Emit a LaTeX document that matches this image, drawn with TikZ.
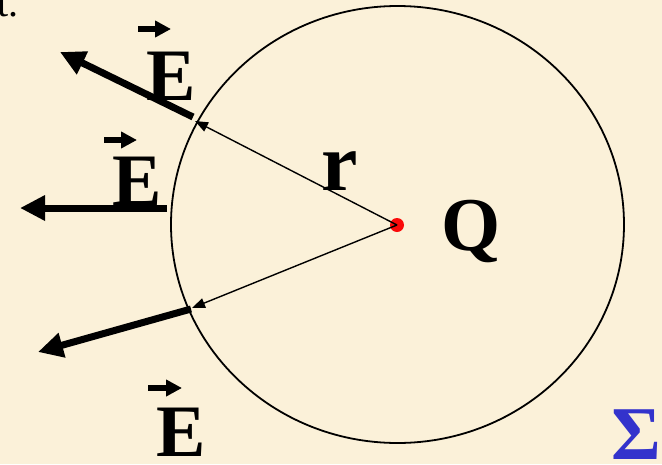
\documentclass[tikz,border=0pt]{standalone}
\usepackage{fontspec}
\setmainfont{Liberation Serif}
\usetikzlibrary{arrows.meta}
\definecolor{parch}{RGB}{251,241,217}
\definecolor{sigblue}{RGB}{51,51,204}
\definecolor{dotred}{RGB}{250,10,10}
\begin{document}
\begin{tikzpicture}[x=1pt,y=-1pt,
  thinarrow/.style={line width=1.4pt,-{Triangle[length=13pt,width=10pt]}},
  fieldarrow/.style={line width=7pt,-{Triangle[length=25pt,width=24pt]}},
  vecarrow/.style={line width=6pt,-{Triangle[length=16pt,width=16pt]}},
  lbl/.style={inner sep=0pt,font=\fontsize{74}{80}\selectfont\bfseries}]
\useasboundingbox (0,0) rectangle (662,464);
\fill[parch] (0,0) rectangle (662,464);
\begin{scope}
\clip (0,0) rectangle (662,464);
\node[inner sep=0pt,anchor=base east,font=\fontsize{40}{42}\selectfont] (tdot) at (19,16) {t.};
\end{scope}
% sphere
\draw[line width=1.8pt] (397.5,224.5) ellipse [x radius=226.5pt, y radius=218.5pt];
% charge
\node[circle,fill=dotred,minimum size=14pt,inner sep=0pt] (dot) at (397,225) {};
\node[lbl,anchor=base west,font=\fontsize{76}{80}\selectfont\bfseries] (Q) at (441,250) {Q};
\node[lbl,anchor=base west,font=\fontsize{82}{86}\selectfont\bfseries] (r) at (321,190) {r};
% radius lines
\coordinate (p1) at (195,121);
\coordinate (p2) at (192,308);
\draw[thinarrow] (dot.center) -- (p1);
\draw[thinarrow] (dot.center) -- (p2);
% field arrows
\coordinate (f1s) at (193,117);
\coordinate (f1e) at (60,52);
\coordinate (f2s) at (167,208);
\coordinate (f2e) at (20,208);
\coordinate (f3s) at (191,309);
\coordinate (f3e) at (38,352);
\draw[fieldarrow] (f1s) -- (f1e);
\draw[fieldarrow] (f2s) -- (f2e);
\draw[fieldarrow] (f3s) -- (f3e);
% E labels
\node[lbl,anchor=base west] (E1) at (146,100) {E};
\node[lbl,anchor=base west] (E2) at (112,205) {E};
\node[lbl,anchor=base west] (E3) at (156,456) {E};
\coordinate (v1a) at (138,29);
\coordinate (v1b) at (171,29);
\coordinate (v2a) at (104,140);
\coordinate (v2b) at (137,140);
\coordinate (v3a) at (148,388);
\coordinate (v3b) at (182,388);
\draw[vecarrow] (v1a) -- (v1b);
\draw[vecarrow] (v2a) -- (v2b);
\draw[vecarrow] (v3a) -- (v3b);
% sigma
\node[lbl,anchor=base west,text=sigblue,font=\fontsize{76}{80}\selectfont\bfseries] (S) at (611,459) {Σ};
\end{tikzpicture}
\end{document}
